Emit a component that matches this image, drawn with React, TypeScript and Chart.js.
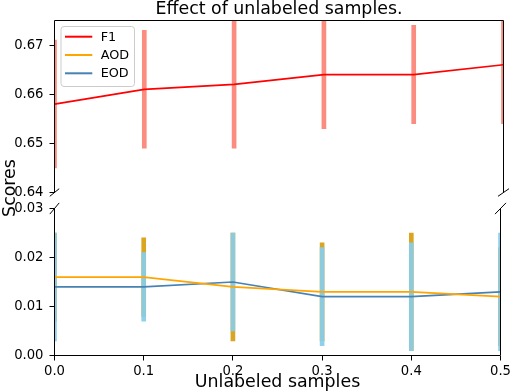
import React, { useEffect, useRef } from "react";
import { Chart, registerables } from "chart.js";

Chart.register(...registerables);

// ---------- data ----------
const XS = [0, 0.1, 0.2, 0.3, 0.4, 0.5];
const F1 = [0.658, 0.661, 0.662, 0.664, 0.664, 0.666];
const F1_ERR = [0.013, 0.012, 0.013, 0.011, 0.01, 0.012];
const AOD = [0.016, 0.016, 0.014, 0.013, 0.013, 0.012];
const AOD_ERR = [0.009, 0.008, 0.011, 0.01, 0.012, 0.01];
const EOD = [0.014, 0.014, 0.015, 0.012, 0.012, 0.013];
const EOD_ERR = [0.011, 0.007, 0.01, 0.01, 0.011, 0.012];

const X_TICKS = [0, 0.1, 0.2, 0.3, 0.4, 0.5];
const TOP_TICKS = [0.64, 0.65, 0.66, 0.67];
const BOTTOM_TICKS = [0, 0.01, 0.02, 0.03];
const TOP_RANGE = [0.64, 0.675];
const BOTTOM_RANGE = [0, 0.03];
const X_RANGE = [0, 0.5];

const SERIES_NAMES = ["F1", "AOD", "EOD"];
const TITLE = "Effect of unlabeled samples.";
const X_LABEL = "Unlabeled samples";
const Y_LABEL = "Scores";

// ---------- styles / layout ----------
const W = 514;
const H = 392;
const FONT = "DejaVu Sans";
const TICK_SIZE = 13.2;
const LEGEND_SIZE = 12.8;
const LABEL_SIZE = 17.4;
const L = 54.5;
const R = 503.5;
const TOP_T = 20.5;
const TOP_B = 192.5;
const BOT_T = 208.5;
const BOT_B = 355.5;
const YW = 46;
const XH = 30;
const TICK_LEN = 5;
const LINE_COLORS = ["#ff0000", "#ffa500", "#4682b4"];
const ERR_COLORS = ["rgba(250,128,114,0.9)", "rgba(218,165,32,1)", "rgba(135,206,235,0.93)"];

Chart.defaults.font.family = FONT;

const pts = (ys: number[]) => XS.map((x, i) => ({ x, y: ys[i] }));
const errs = (ys: number[], es: number[]) =>
  XS.map((x, i) => ({ x, y: [ys[i] - es[i], ys[i] + es[i]] }));

const lineDs = (label: string, ys: number[], color: string) => ({
  type: "line" as const,
  label,
  data: pts(ys),
  borderColor: color,
  backgroundColor: color,
  borderWidth: 1.7,
  pointRadius: 0,
  tension: 0,
  order: 0,
});
const barDs = (label: string, ys: number[], es: number[], color: string, order: number) => ({
  type: "bar" as const,
  label,
  data: errs(ys, es),
  backgroundColor: color,
  borderWidth: 0,
  barThickness: 4,
  grouped: false,
  clip: 0,
  order,
});

const yScale = (range: number[], ticks: number[]) => ({
  type: "linear" as const,
  min: range[0],
  max: range[1],
  afterFit: (s: any) => {
    s.width = YW;
  },
  afterBuildTicks: (s: any) => {
    s.ticks = ticks.map((v) => ({ value: v }));
  },
  ticks: {
    callback: (v: any) => Number(v).toFixed(2),
    color: "#000",
    font: { family: FONT, size: TICK_SIZE },
    padding: 6,
  },
  grid: { drawOnChartArea: false, drawTicks: true, tickLength: TICK_LEN, color: "#000", lineWidth: 1 },
  border: { display: false },
});

function line(ctx: CanvasRenderingContext2D, x1: number, y1: number, x2: number, y2: number) {
  ctx.beginPath();
  ctx.moveTo(x1, y1);
  ctx.lineTo(x2, y2);
  ctx.stroke();
}

const topDecor = {
  id: "topDecor",
  afterDraw(chart: any) {
    const ctx = chart.ctx as CanvasRenderingContext2D;
    const a = chart.chartArea;
    ctx.save();
    ctx.strokeStyle = "#000";
    ctx.lineWidth = 1;
    line(ctx, a.left, a.top, a.right, a.top);
    line(ctx, a.left, a.top, a.left, a.bottom);
    line(ctx, a.right, a.top, a.right, a.bottom);
    line(ctx, a.left - 4.7, a.bottom + 3.8, a.left + 4.7, a.bottom - 3.8);
    line(ctx, a.right - 5.5, a.bottom + 3.8, a.right + 5.5, a.bottom - 3.8);
    ctx.fillStyle = "#000";
    ctx.font = `${LABEL_SIZE}px "${FONT}"`;
    ctx.textAlign = "center";
    ctx.textBaseline = "alphabetic";
    ctx.fillText(TITLE, (a.left + a.right) / 2, 13.8);
    const bx = 61, by = 26.5, bw = 73.5, bh = 60, r = 3;
    ctx.beginPath();
    ctx.moveTo(bx + r, by);
    ctx.arcTo(bx + bw, by, bx + bw, by + bh, r);
    ctx.arcTo(bx + bw, by + bh, bx, by + bh, r);
    ctx.arcTo(bx, by + bh, bx, by, r);
    ctx.arcTo(bx, by, bx + bw, by, r);
    ctx.closePath();
    ctx.fillStyle = "rgba(255,255,255,0.8)";
    ctx.fill();
    ctx.strokeStyle = "#cccccc";
    ctx.stroke();
    ctx.font = `${LEGEND_SIZE}px "${FONT}"`;
    ctx.textAlign = "left";
    ctx.textBaseline = "middle";
    SERIES_NAMES.forEach((name, i) => {
      const y = 36.7 + i * 18.3;
      ctx.strokeStyle = LINE_COLORS[i];
      ctx.lineWidth = 2;
      line(ctx, 65, y, 92.3, y);
      ctx.fillStyle = "#000";
      ctx.fillText(name, 100.7, y + 0.5);
    });
    ctx.restore();
  },
};

const bottomDecor = {
  id: "bottomDecor",
  afterDraw(chart: any) {
    const ctx = chart.ctx as CanvasRenderingContext2D;
    const a = chart.chartArea;
    ctx.save();
    ctx.strokeStyle = "#000";
    ctx.lineWidth = 1;
    line(ctx, a.left, a.bottom, a.right, a.bottom);
    line(ctx, a.left, a.top, a.left, a.bottom);
    line(ctx, a.right, a.top, a.right, a.bottom);
    line(ctx, a.left - 4.7, a.top + 5.6, a.left + 4.7, a.top - 5.6);
    line(ctx, a.right - 5.5, a.top + 5.6, a.right + 5.5, a.top - 5.6);
    ctx.fillStyle = "#000";
    ctx.font = `${LABEL_SIZE}px "${FONT}"`;
    ctx.textAlign = "center";
    ctx.textBaseline = "alphabetic";
    ctx.fillText(X_LABEL, (a.left + a.right) / 2, 387);
    ctx.translate(14.5, (TOP_T + BOT_B) / 2);
    ctx.rotate(-Math.PI / 2);
    ctx.fillText(Y_LABEL, 0, 0);
    ctx.restore();
  },
};

const common = {
  responsive: false,
  animation: false as const,
  devicePixelRatio: 1,
  events: [] as any[],
  plugins: { legend: { display: false }, tooltip: { enabled: false }, title: { display: false } },
};

export default function App() {
  const topRef = useRef<HTMLCanvasElement>(null);
  const botRef = useRef<HTMLCanvasElement>(null);

  useEffect(() => {
    const top = new Chart(topRef.current!, {
      type: "line",
      data: {
        datasets: [
          lineDs(SERIES_NAMES[0], F1, LINE_COLORS[0]),
          barDs("F1 error", F1, F1_ERR, ERR_COLORS[0], 1),
        ] as any,
      },
      options: {
        ...common,
        layout: {
          autoPadding: false,
          padding: { left: L - YW, right: W - R, top: TOP_T, bottom: H - TOP_B },
        },
        scales: {
          x: { type: "linear", min: X_RANGE[0], max: X_RANGE[1], display: false, offset: false },
          y: yScale(TOP_RANGE, TOP_TICKS),
        },
      } as any,
      plugins: [topDecor],
    });

    const bot = new Chart(botRef.current!, {
      type: "line",
      data: {
        datasets: [
          lineDs(SERIES_NAMES[1], AOD, LINE_COLORS[1]),
          lineDs(SERIES_NAMES[2], EOD, LINE_COLORS[2]),
          barDs("AOD error", AOD, AOD_ERR, ERR_COLORS[1], 2),
          barDs("EOD error", EOD, EOD_ERR, ERR_COLORS[2], 1),
        ] as any,
      },
      options: {
        ...common,
        layout: {
          autoPadding: false,
          padding: { left: L - YW, right: W - R, top: BOT_T, bottom: H - BOT_B - XH },
        },
        scales: {
          x: {
            type: "linear",
            min: X_RANGE[0],
            max: X_RANGE[1],
            offset: false,
            afterFit: (s: any) => {
              s.height = XH;
            },
            afterBuildTicks: (s: any) => {
              s.ticks = X_TICKS.map((v) => ({ value: v }));
            },
            ticks: {
              callback: (v: any) => Number(v).toFixed(1),
              color: "#000",
              font: { family: FONT, size: TICK_SIZE },
              padding: 3,
              maxRotation: 0,
              autoSkip: false,
            },
            grid: { drawOnChartArea: false, drawTicks: true, tickLength: TICK_LEN, color: "#000", lineWidth: 1, offset: false },
            border: { display: false },
          },
          y: yScale(BOTTOM_RANGE, BOTTOM_TICKS),
        },
      } as any,
      plugins: [bottomDecor],
    });

    return () => {
      top.destroy();
      bot.destroy();
    };
  }, []);

  const cs: React.CSSProperties = { position: "absolute", left: 0, top: 0, width: W, height: H };
  return (
    <div style={{ position: "absolute", left: 0, top: 0, width: W, height: H, background: "#fff" }}>
      <canvas ref={botRef} width={W} height={H} style={cs} />
      <canvas ref={topRef} width={W} height={H} style={cs} />
    </div>
  );
}
